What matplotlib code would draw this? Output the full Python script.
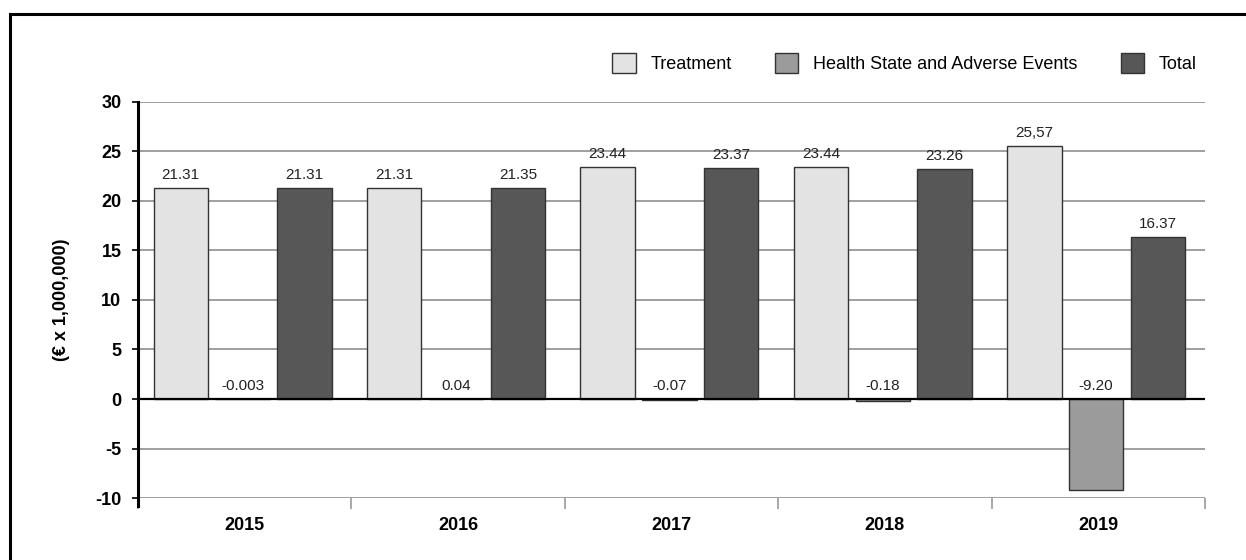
import matplotlib.pyplot as plt
import numpy as np
from matplotlib.patches import Rectangle

plt.rcParams['font.family'] = ['Liberation Sans', 'DejaVu Sans']
plt.rcParams['axes.unicode_minus'] = False

# data
years = ['2015', '2016', '2017', '2018', '2019']
treatment = [21.31, 21.31, 23.44, 23.44, 25.57]
health = [-0.003, 0.04, -0.07, -0.18, -9.20]
total = [21.31, 21.35, 23.37, 23.26, 16.37]
treatment_lbl = ['21.31', '21.31', '23.44', '23.44', '25,57']
health_lbl = ['-0.003', '0.04', '-0.07', '-0.18', '-9.20']
total_lbl = ['21.31', '21.35', '23.37', '23.26', '16.37']

c_treat = '#e3e3e3'
c_health = '#9b9b9b'
c_total = '#575757'

fig = plt.figure(figsize=(12.46, 5.6), dpi=100)
ax = fig.add_axes([0.1108, 0.1107, 0.8563, 0.7072])

# outer frame (cut off on the right and bottom)
fig.patches.append(Rectangle((10 / 1246, -0.1), 1.2, 1 - 14 / 560 + 0.1,
                             transform=fig.transFigure, fill=False,
                             edgecolor='black', linewidth=2.2, zorder=0))

x = np.arange(len(years))
w = 0.255
off = 0.29
sh = -0.01
kw = dict(edgecolor='#333333', linewidth=1.0, zorder=3)
ax.bar(x + sh - off, treatment, w, color=c_treat, label='Treatment', **kw)
ax.bar(x + sh, health, w, color=c_health, label='Health State and Adverse Events', **kw)
ax.bar(x + sh + off, total, w, color=c_total, label='Total', **kw)

for i in range(len(years)):
    ax.text(x[i] + sh - off, treatment[i] + 0.6, treatment_lbl[i], ha='center', va='bottom', fontsize=11, color='#222222')
    ax.text(x[i] + sh, 0.6, health_lbl[i], ha='center', va='bottom', fontsize=11, color='#222222')
    ax.text(x[i] + sh + off, total[i] + 0.6, total_lbl[i], ha='center', va='bottom', fontsize=11, color='#222222')

ax.set_ylim(-10, 30)
ax.set_xlim(-0.5, len(years) - 0.5)
ax.set_yticks(np.arange(-10, 31, 5))
ax.yaxis.grid(True, color='#8f8f8f', linewidth=1.2, zorder=0)
ax.set_axisbelow(True)
ax.axhline(0, color='black', linewidth=1.6, zorder=4)

for s in ['top', 'right', 'bottom']:
    ax.spines[s].set_visible(False)
ax.spines['left'].set_linewidth(2.2)
ax.spines['left'].set_bounds(-10.8, 30)

ax.set_xticks(x)
ax.set_xticklabels(years, fontsize=13, fontweight='bold')
ax.tick_params(axis='x', length=0, pad=14)
ax.set_xticks(np.arange(len(years) + 1) - 0.5, minor=True)
ax.tick_params(axis='x', which='minor', length=8, color='#9a9a9a', width=1.2)
ax.tick_params(axis='y', length=4, width=1.2, labelsize=13, pad=8)
for t in ax.get_yticklabels():
    t.set_fontweight('bold')

ax.set_ylabel('(€ x 1,000,000)', fontsize=13, fontweight='bold', labelpad=18)

ax.legend(loc='center right', bbox_to_anchor=(1197 / 1246, 1 - 63 / 560),
          bbox_transform=fig.transFigure, ncol=3, frameon=False,
          fontsize=13, handlelength=1.28, handleheight=1.28, columnspacing=2.4,
          handletextpad=0.83, borderpad=0, borderaxespad=0)

fig.savefig('out.png', dpi=100)
